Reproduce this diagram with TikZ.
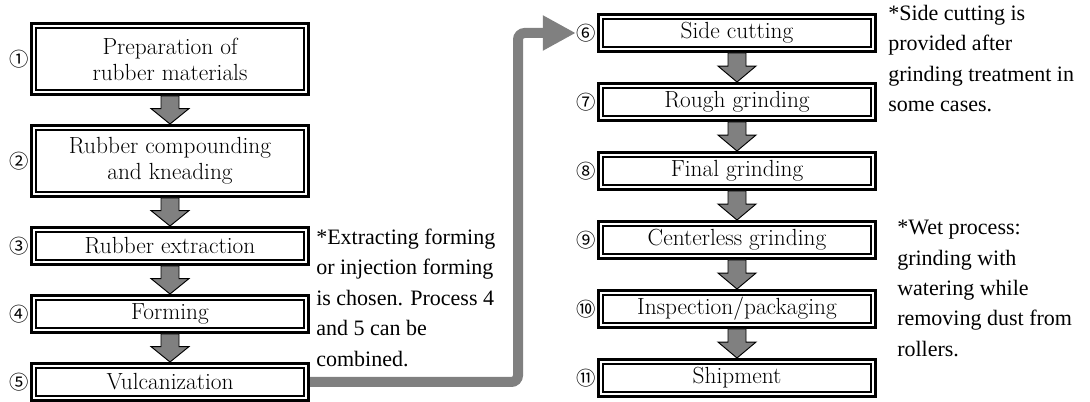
\documentclass[tikz,border=0pt]{standalone}
\usepackage{fontspec}
\usepackage{tikz}
\usetikzlibrary{calc}
\usetikzlibrary{arrows.meta, positioning}
\newfontfamily\notefont{Liberation Serif}
\newfontfamily\circfont{Noto Sans CJK JP}
\definecolor{flowgray}{RGB}{128,128,128}

\begin{document}
\begin{tikzpicture}[
  x=0.75pt, y=-0.75pt,
  node distance=21pt,
  >=Latex,
  stepbox/.style={draw=black, line width=2.6pt, fill=white, align=center,
                  minimum width=207.4pt, minimum height=27.4pt, inner sep=0pt,
                  font=\fontsize{17.5}{19.5}\selectfont},
  tallbox/.style={stepbox, minimum height=52.9pt},
  innerline/.style={draw=black, line width=1.1pt},
  blockarrow/.style={fill=flowgray, draw=black, line width=0.7pt, line join=miter},
  feed/.style={draw=flowgray, line width=7.5pt, rounded corners=5pt,
               -{Triangle[length=24.75pt, width=24.75pt]}},
  num/.style={font=\circfont\fontsize{14.5}{14.5}\selectfont, inner sep=0.5pt},
  note/.style={font=\notefont\fontsize{16.5}{22.8}\selectfont, align=left,
               inner sep=0pt, anchor=north west}
]
\useasboundingbox (0,0) rectangle (1090,402);

%% ── Left column ────────────────────────────────────────────────
\node[tallbox] (prep) at (170,59) {Preparation of\\rubber materials};
\node[tallbox, below=of prep] (compound) {Rubber compounding\\and kneading};
\node[stepbox, below=of compound] (extract) {Rubber extraction};
\node[stepbox, below=of extract] (form) {Forming};
\node[stepbox, below=of form] (vulc) {Vulcanization};

%% ── Right column ───────────────────────────────────────────────
\node[stepbox] (side) at (737,33) {Side cutting};
\node[stepbox, below=21.75pt of side] (rough) {Rough grinding};
\node[stepbox, below=21.75pt of rough] (final) {Final grinding};
\node[stepbox, below=21.75pt of final] (centerless) {Centerless grinding};
\node[stepbox, below=21.75pt of centerless] (inspect) {Inspection/packaging};
\node[stepbox, below=21.75pt of inspect] (ship) {Shipment};

%% ── Inner frame of each box ───────────────────────────────────
\foreach \n in {prep, compound, extract, form, vulc,
                side, rough, final, centerless, inspect, ship}
  \draw[innerline] ([shift={(4.55pt,-4.55pt)}]\n.north west)
    rectangle ([shift={(-4.55pt,4.55pt)}]\n.south east);

%% ── Step numbers ──────────────────────────────────────────────
\node[num, left=0pt of prep] (num1) {①};
\node[num, left=0pt of compound] (num2) {②};
\node[num, left=0pt of extract] (num3) {③};
\node[num, left=0pt of form] (num4) {④};
\node[num, left=0pt of vulc] (num5) {⑤};
\node[num, left=0pt of side] (num6) {⑥};
\node[num, left=0pt of rough] (num7) {⑦};
\node[num, left=0pt of final] (num8) {⑧};
\node[num, left=0pt of centerless] (num9) {⑨};
\node[num, left=0pt of inspect] (num10) {⑩};
\node[num, left=0pt of ship] (num11) {⑪};

%% ── Block arrows between steps ────────────────────────────────
\foreach \a/\b in {prep/compound, compound/extract, extract/form, form/vulc,
                   side/rough, rough/final, final/centerless,
                   centerless/inspect, inspect/ship}
  \draw[blockarrow]
    ($(\a.south)+(-6.75pt,0)$) -- ($(\a.south)!.45!(\b.north)+(-6.75pt,0)$)
    -- ($(\a.south)!.45!(\b.north)+(-14.25pt,0)$) -- (\b.north)
    -- ($(\a.south)!.45!(\b.north)+(14.25pt,0)$)
    -- ($(\a.south)!.45!(\b.north)+(6.75pt,0)$)
    -- ($(\a.south)+(6.75pt,0)$) -- cycle;

%% ── Jump to the second column ─────────────────────────────────
\coordinate (bend) at (518,0);
\draw[feed] (vulc.east) -| (bend |- num6.west) -- (num6.west);

%% ── Notes ─────────────────────────────────────────────────────
\node[note] (noteform) at ([shift={(4.5pt,-2pt)}]extract.north east)
  {*Extracting forming\\or injection forming\\is chosen. Process 4\\and 5 can be\\combined.};
\node[note] (noteside) at ([shift={(8.25pt,6pt)}]side.north east)
  {*Side cutting is\\provided after\\grinding treatment in\\some cases.};
\node[note] (notewet) at ([xshift=15pt]centerless.north east)
  {*Wet process:\\grinding with\\watering while\\removing dust from\\rollers.};

\end{tikzpicture}
\end{document}
